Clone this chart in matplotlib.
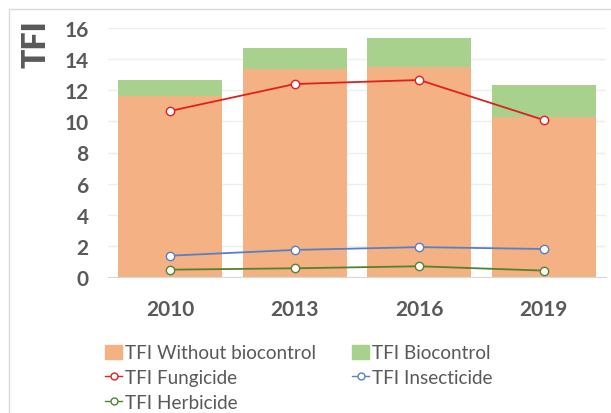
import matplotlib.pyplot as plt
from matplotlib.lines import Line2D
from matplotlib.patches import Patch, Rectangle

years = ["2010", "2013", "2016", "2019"]
tfi_without_bio = [11.63, 13.37, 13.5, 10.28]
tfi_bio = [1.03, 1.35, 1.86, 2.06]
tfi_fungicide = [10.67, 12.4, 12.66, 10.09]
tfi_insecticide = [1.37, 1.74, 1.92, 1.8]
tfi_herbicide = [0.47, 0.56, 0.69, 0.41]

orange = "#F4B183"
green = "#A9D18E"
red = "#E0201B"
blue = "#5B7FC4"
dgreen = "#548235"
txt = "#595959"

plt.rcParams['font.family'] = ['Lato', 'DejaVu Sans']

fig = plt.figure(figsize=(6.11, 4.14), dpi=100)
ax = fig.add_axes([108 / 611, 1 - 278 / 414, 498 / 611, 249 / 414])

# chart frame
fig.patches.append(Rectangle((9 / 611, -0.1), 1.2, 1 - 10 / 414 + 0.1,
                             transform=fig.transFigure, fill=False,
                             edgecolor="#D9D9D9", lw=1))

x = range(len(years))
ax.bar(x, tfi_without_bio, width=0.835, color=orange, zorder=2)
ax.bar(x, tfi_bio, width=0.835, bottom=tfi_without_bio, color=green, zorder=2)

mk = dict(marker="o", markersize=6, markerfacecolor="white", lw=1.3, zorder=3)
ax.plot(x, tfi_fungicide, color=red, markeredgecolor=red, **mk)
ax.plot(x, tfi_insecticide, color=blue, markeredgecolor=blue, **mk)
ax.plot(x, tfi_herbicide, color=dgreen, markeredgecolor=dgreen, **mk)

ax.set_xlim(-0.5, 3.5)
ax.set_ylim(0, 16)
ax.set_yticks(range(0, 17, 2))
ax.set_xticks(list(x))
ax.set_xticklabels(years)
ax.yaxis.grid(True, color="#EEEEEE", lw=1, zorder=0)
ax.set_axisbelow(True)
for s in ["top", "right", "left"]:
    ax.spines[s].set_visible(False)
ax.spines["bottom"].set_color("#D9D9D9")
ax.tick_params(axis="both", length=0, labelcolor=txt)
ax.tick_params(axis="y", pad=14, labelsize=15)
ax.tick_params(axis="x", pad=16, labelsize=15)
for lab in ax.get_xticklabels() + ax.get_yticklabels():
    lab.set_fontweight("bold")

fig.text(36 / 611, 1 - 44 / 414, "TFI", rotation=90, ha="center", va="center",
         fontsize=23, fontweight="heavy", color=txt)

handles = [
    Patch(color=orange, label="TFI Without biocontrol"),
    Line2D([], [], color=red, markeredgecolor=red, marker="o", markersize=5,
           markerfacecolor="white", lw=1, label="TFI Fungicide"),
    Line2D([], [], color=dgreen, markeredgecolor=dgreen, marker="o", markersize=5,
           markerfacecolor="white", lw=1, label="TFI Herbicide"),
    Patch(color=green, label="TFI Biocontrol"),
    Line2D([], [], color=blue, markeredgecolor=blue, marker="o", markersize=5,
           markerfacecolor="white", lw=1, label="TFI Insecticide"),
]
leg = fig.legend(handles=handles, ncol=2, loc="upper left",
                 bbox_to_anchor=(96 / 611, 1 - 336 / 414), frameon=False,
                 fontsize=13.6, handlelength=0.9, handleheight=0.75,
                 handletextpad=0.15, columnspacing=1.9, labelspacing=0.4,
                 borderpad=0)
for t in leg.get_texts():
    t.set_color(txt)

fig.savefig("out.png", dpi=100)
